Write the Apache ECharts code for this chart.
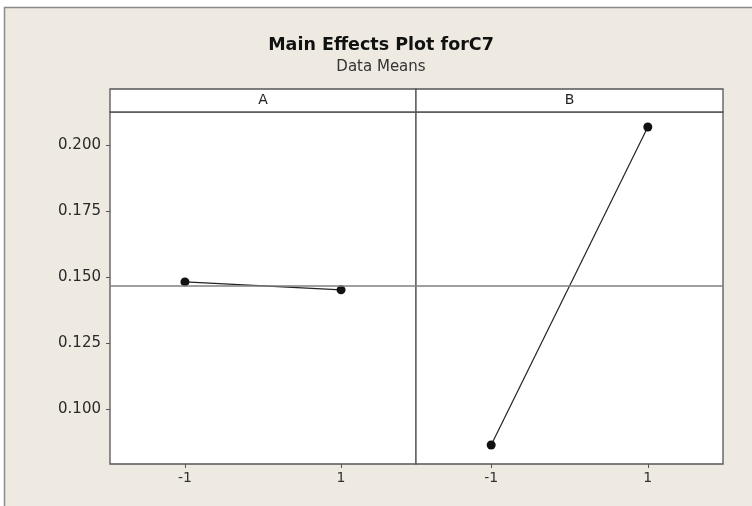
<!DOCTYPE html>
<html>
<head>
<meta charset="utf-8">
<script src="https://cdn.jsdelivr.net/npm/echarts@6/dist/echarts.min.js"></script>
<style>
  html, body { margin: 0; padding: 0; background: #ffffff; }
  #chart { width: 752px; height: 506px; }
</style>
</head>
<body>
<div id="chart"></div>
<script>
// Factor panels and their level means
const factors = ['A', 'B'];
const levels = [-1, 1];
const meansA = [0.1481, 0.1451];
const meansB = [0.0863, 0.2068];
const grandMean = 0.1466;
const yTicks = [0.100, 0.125, 0.150, 0.175, 0.200];
const xTickLabels = ['-1', '1'];

const FONT = 'DejaVu Sans';
const panelMeans = [meansA, meansB];

const grids = [
  { left: 110, top: 112, width: 306, height: 352 },
  { left: 416, top: 112, width: 307, height: 352 }
].map(g => Object.assign(g, {
  show: true, backgroundColor: '#ffffff', borderColor: '#555555', borderWidth: 1.3
}));

const xAxes = factors.map((f, i) => ({
  type: 'value', gridIndex: i, min: -1.96, max: 1.96,
  splitLine: { show: false },
  axisLine: { show: false, onZero: false },
  axisTick: { show: true, customValues: levels, length: 4, lineStyle: { color: '#555' } },
  axisLabel: {
    customValues: levels,
    formatter: v => xTickLabels[levels.indexOf(v)],
    color: '#333', fontFamily: FONT, fontSize: 14, margin: 7
  }
}));

const yAxes = factors.map((f, i) => ({
  type: 'value', gridIndex: i, min: 0.0791, max: 0.2125,
  splitLine: { show: false },
  axisLine: { show: false, onZero: false },
  axisTick: { show: i === 0, customValues: yTicks, length: 4, lineStyle: { color: '#555' } },
  axisLabel: {
    show: i === 0, customValues: yTicks,
    formatter: v => v.toFixed(3),
    color: '#2a2a2a', fontFamily: FONT, fontSize: 15, margin: 9
  }
}));

const series = factors.map((f, i) => ({
  name: f, type: 'line', xAxisIndex: i, yAxisIndex: i,
  data: levels.map((x, k) => [x, panelMeans[i][k]]),
  symbol: 'circle', symbolSize: 9,
  itemStyle: { color: '#111' },
  lineStyle: { color: '#222', width: 1.2 },
  silent: true,
  markLine: {
    silent: true, symbol: 'none', precision: 4, label: { show: false },
    lineStyle: { color: '#808080', width: 1.5, type: 'solid' },
    data: [{ yAxis: grandMean }]
  }
}));

const headerGraphics = factors.map((f, i) => ({
  type: 'group',
  children: [
    {
      type: 'rect',
      shape: { x: grids[i].left, y: 89, width: grids[i].width, height: 23 },
      style: { fill: '#ffffff', stroke: '#555555', lineWidth: 1.3 }
    },
    {
      type: 'text',
      x: grids[i].left + grids[i].width / 2, y: 100.5,
      style: { text: f, fontFamily: FONT, fontSize: 14, fill: '#222',
               align: 'center', verticalAlign: 'middle' }
    }
  ]
}));

const chart = echarts.init(document.getElementById('chart'), null, { renderer: 'canvas' });
chart.setOption({
  animation: false,
  backgroundColor: '#ffffff',
  title: {
    text: 'Main Effects Plot forC7',
    subtext: 'Data Means',
    left: 376, textAlign: 'center', top: 31, itemGap: 6,
    textStyle: { fontFamily: FONT, fontSize: 17.5, fontWeight: 'bold', color: '#111' },
    subtextStyle: { fontFamily: FONT, fontSize: 15, color: '#333' }
  },
  graphic: [
    {
      type: 'rect', z: -10, silent: true,
      shape: { x: 4.5, y: 7.5, width: 800, height: 600 },
      style: { fill: '#eeeae1', stroke: '#8a8a8a', lineWidth: 1.5 }
    }
  ].concat(headerGraphics),
  grid: grids,
  xAxis: xAxes,
  yAxis: yAxes,
  series: series
});
</script>
</body>
</html>
